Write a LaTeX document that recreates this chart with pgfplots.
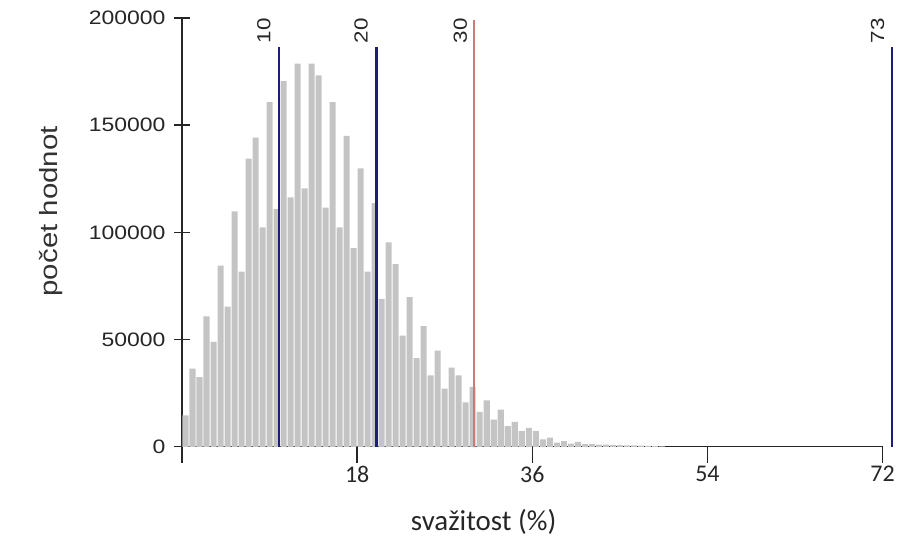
\documentclass[border=0pt]{standalone}
\usepackage{pgfplots}
\pgfplotsset{compat=1.18}
\usepackage{fontspec}
\setmainfont{Liberation Sans}
\newfontfamily\calib{Carlito}
\newfontfamily\wide[FakeStretch=1.18]{Liberation Sans}

\definecolor{bargray}{RGB}{196,196,196}
\definecolor{navyline}{RGB}{30,30,120}
\definecolor{redline}{RGB}{205,120,120}

% histogram: bins of 0.72 % over 0--72, x = bin centre
\pgfplotstableread{
x      n
0.36   14700
1.08   36400
1.80   32500
2.52   60800
3.24   48900
3.96   84500
4.68   65400
5.40   109800
6.12   81700
6.84   134400
7.56   144200
8.28   102300
9.00   160700
9.72   110800
10.44  170500
11.16  116300
11.88  178700
12.60  120500
13.32  178700
14.04  173200
14.76  111600
15.48  160700
16.20  102300
16.92  145000
17.64  92600
18.36  129800
19.08  81700
19.80  113600
20.52  69000
21.24  95300
21.96  85200
22.68  51900
23.40  69800
24.12  41400
24.84  56300
25.56  33300
26.28  44900
27.00  27100
27.72  36900
28.44  33300
29.16  20700
29.88  27900
30.60  16300
31.32  21700
32.04  12700
32.76  17300
33.48  9600
34.20  11600
34.92  7300
35.64  8800
36.36  7300
37.08  3500
37.80  4300
38.52  1900
39.24  2600
39.96  1500
40.68  2300
41.40  1200
42.12  1200
42.84  1000
43.56  1000
44.28  900
45.00  800
45.72  700
46.44  600
47.16  500
47.88  400
48.60  300
49.32  200
}\hist

\begin{document}
\begin{tikzpicture}
\begin{axis}[
    scale only axis,
    width=702.5pt, height=430pt,
    xmin=0, xmax=72, ymin=0, ymax=200000,
    axis lines=left,
    axis line style={-, line width=1.4pt, black!85},
    clip=false,
    xtick={0,18,36,54,72},
    xticklabels={,18,36,54,72},
    ytick={0,50000,100000,150000,200000},
    scaled y ticks=false,
    /pgf/number format/assume math mode=true,
    /pgf/number format/fixed,
    /pgf/number format/1000 sep={},
    xtick align=outside, ytick align=center,
    major tick length=16pt,
    tick style={line width=1.4pt, black!85},
    yticklabel style={font=\wide\fontsize{19.5}{19.5}\selectfont, text=black!85, xshift=-5pt},
    xticklabel style={font=\calib\fontsize{24}{24}\selectfont, text=black!85},
    xlabel={\calib svažitost (\%)},
    ylabel={počet hodnot},
    x label style={at={(axis description cs:0.4306,-0.1744)}, anchor=center,
        font=\fontsize{29}{29}\selectfont, text=black!85},
    y label style={at={(axis description cs:-0.187,0.549)}, anchor=center,
        font=\wide\fontsize{25}{25}\selectfont, text=black!80},
]
\path (rel axis cs:-0.2598,-0.2302) rectangle (rel axis cs:1.0185,1.0419);

\addplot[ybar, bar width=0.62, fill=bargray, draw=none] table[x=x, y=n] {\hist};

\addplot[navyline, line width=2.2pt] coordinates {(10,0) (10,186500)};
\addplot[navyline, line width=2.2pt] coordinates {(20,0) (20,186500)};
\addplot[redline, line width=1.5pt] coordinates {(30,0) (30,199000)};
\addplot[navyline, line width=2.2pt] coordinates {(73,0) (73,186500)};

\node[rotate=90, font=\wide\fontsize{19}{19}\selectfont, text=black!85] at (axis cs:8.4,194000) {10};
\node[rotate=90, font=\wide\fontsize{19}{19}\selectfont, text=black!85] at (axis cs:18.4,194000) {20};
\node[rotate=90, font=\wide\fontsize{19}{19}\selectfont, text=black!85] at (axis cs:28.6,194000) {30};
\node[rotate=90, font=\wide\fontsize{19}{19}\selectfont, text=black!85] at (axis cs:71.5,194000) {73};
\end{axis}
\end{tikzpicture}
\end{document}
